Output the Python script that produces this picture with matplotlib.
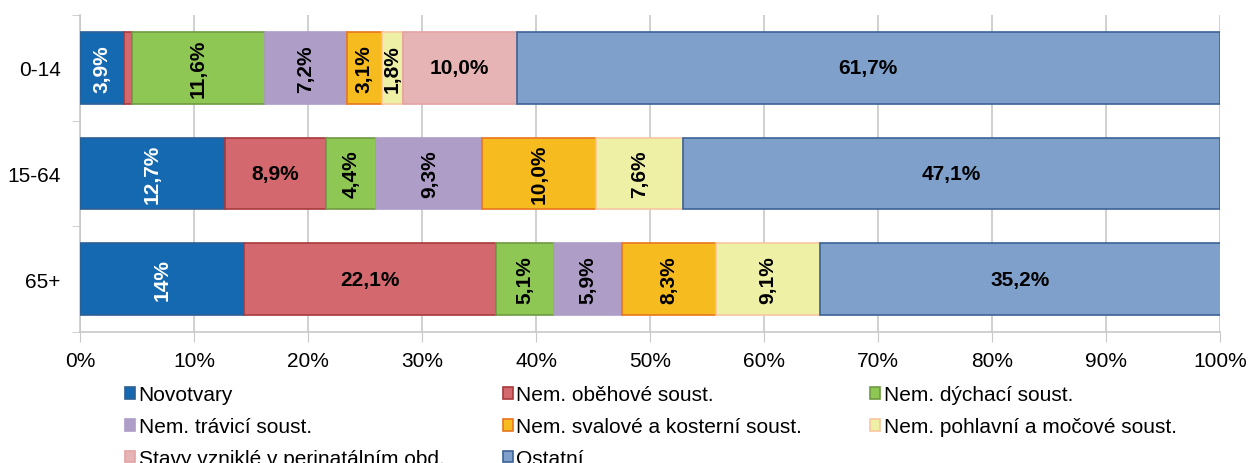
import matplotlib.pyplot as plt
import numpy as np
from matplotlib.patches import Patch

plt.rcParams['font.family'] = ['Liberation Sans', 'DejaVu Sans']

# data
groups = ['0-14', '15-64', '65+']
series = ['Novotvary', 'Nem. oběhové soust.', 'Nem. dýchací soust.',
          'Nem. trávicí soust.', 'Nem. svalové a kosterní soust.',
          'Nem. pohlavní a močové soust.', 'Stavy vzniklé v perinatálním obd.',
          'Ostatní']
values = {
    '0-14':  [3.9, 0.7, 11.6, 7.2, 3.1, 1.8, 10.0, 61.7],
    '15-64': [12.7, 8.9, 4.4, 9.3, 10.0, 7.6, 0.0, 47.1],
    '65+':   [14.4, 22.1, 5.1, 5.9, 8.3, 9.1, 0.0, 35.2],
}
labels = {
    '0-14':  ['3,9%', '', '11,6%', '7,2%', '3,1%', '1,8%', '10,0%', '61,7%'],
    '15-64': ['12,7%', '8,9%', '4,4%', '9,3%', '10,0%', '7,6%', '', '47,1%'],
    '65+':   ['14%', '22,1%', '5,1%', '5,9%', '8,3%', '9,1%', '', '35,2%'],
}
# which labels are written vertically
vertical = {
    '0-14':  [1, 0, 1, 1, 1, 1, 0, 0],
    '15-64': [1, 0, 1, 1, 1, 1, 0, 0],
    '65+':   [1, 0, 1, 1, 1, 1, 0, 0],
}

fills = ['#1569b0', '#d3686f', '#8fc755', '#ae9dc6', '#f6bb1f', '#eef0a6', '#e6b4b4', '#7ea0cb']
edges = ['#2d5f94', '#a8383c', '#6f9a43', '#ae9dc6', '#e8761e', '#f7c6a0', '#e3a2a2', '#3b6396']
txtcol = ['white', 'black', 'black', 'black', 'black', 'black', 'black', 'black']

fig = plt.figure(figsize=(12.5, 4.64), dpi=100)
ax = fig.add_axes([0.064, 0.2823, 0.912, 0.6832])

ypos = {g: 2 - i for i, g in enumerate(groups)}
for g in groups:
    left = 0.0
    for k, v in enumerate(values[g]):
        w = v / 100.0
        if w > 0:
            ax.barh(ypos[g], w, left=left, height=0.68, color=fills[k],
                    edgecolor=edges[k], linewidth=1.2, zorder=3)
        lab = labels[g][k]
        if lab:
            rot = 90 if vertical[g][k] else 0
            ax.text(left + w / 2, ypos[g], lab, ha='center', va='center',
                    rotation=rot, fontsize=15, fontweight='bold',
                    color=txtcol[k], zorder=4)
        left += w

ax.set_xlim(0, 1)
ax.set_ylim(-0.5, 2.5)
ax.set_xticks(np.arange(0, 1.01, 0.1))
ax.set_xticklabels([f'{int(round(t * 100))}%' for t in np.arange(0, 1.01, 0.1)], fontsize=15)
ax.set_yticks([ypos[g] for g in groups])
ax.set_yticklabels(groups, fontsize=15)
ax.set_yticks([-0.5, 0.5, 1.5, 2.5], minor=True)
ax.tick_params(axis='y', which='major', length=0, pad=14)
ax.tick_params(axis='y', which='minor', length=6, color='#c8c8c8')
ax.tick_params(axis='x', length=7, color='#c8c8c8', pad=7)
ax.grid(axis='x', color='#c8c8c8', linewidth=1.2, zorder=0)
for s in ['top', 'right']:
    ax.spines[s].set_visible(False)
for s in ['left', 'bottom']:
    ax.spines[s].set_color('#c8c8c8')
    ax.spines[s].set_linewidth(1.2)

# legend in three columns, placed one column at a time
handles = [Patch(facecolor=fills[k], edgecolor=edges[k], linewidth=1.2) for k in range(len(series))]
cols = [[0, 3, 6], [1, 4, 7], [2, 5]]
col_x = [0.1, 0.402, 0.696]
for c, idx in enumerate(cols):
    fig.legend([handles[k] for k in idx], [series[k] for k in idx],
               loc='upper left', bbox_to_anchor=(col_x[c], 0.168),
               frameon=False, fontsize=15, handlelength=0.5, handleheight=0.5,
               handletextpad=0.15, labelspacing=0.62, borderaxespad=0, borderpad=0)

fig.savefig('out.png', dpi=100)
